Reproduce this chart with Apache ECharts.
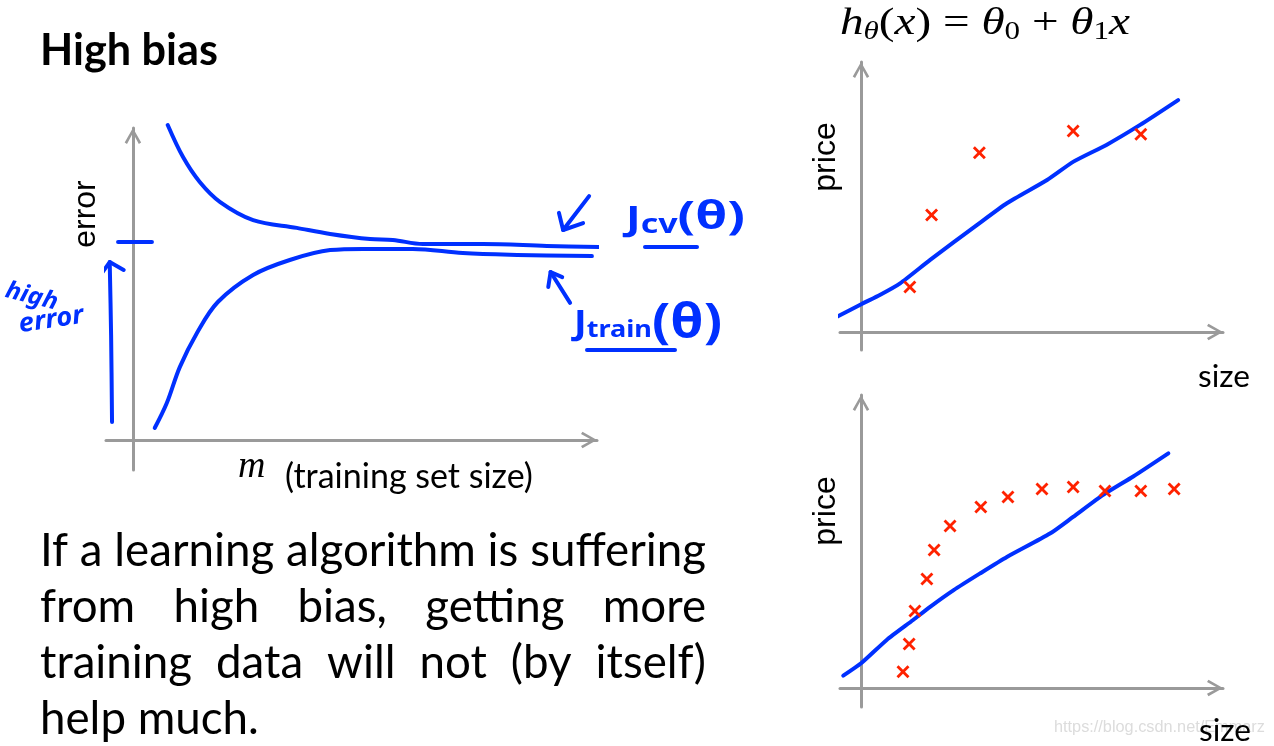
<!DOCTYPE html>
<html>
<head>
<meta charset="utf-8">
<script src="https://cdn.jsdelivr.net/npm/echarts@6/dist/echarts.min.js"></script>
<style>html,body{margin:0;padding:0;background:#fff}#c{width:1274px;height:746px}</style>
</head>
<body>
<div id="c"></div>
<script>
// ---------------- data ----------------
// Left panel: learning curves (x = training set size m, y = error)
const cvCurve = [[0.75,10.5],[1.08,9.43],[1.44,8.6],[1.88,7.93],[2.59,7.33],[3.53,7.07],[4.25,6.87],[5.11,6.7],[5.6,6.67],[6.25,6.53],[7.54,6.53],[8.92,6.47],[10.13,6.43]];
const trainCurve = [[0.47,0.4],[0.73,1.23],[1.01,2.43],[1.38,3.57],[1.83,4.6],[2.59,5.5],[3.38,6.0],[4.25,6.33],[4.96,6.37],[6.03,6.37],[7.11,6.23],[8.28,6.17],[9.89,6.13]];
// Left panel hand-drawn annotations (same units)
const errTick = [[-0.32,6.6],[0.41,6.6]];
const highErrArrow = [[-0.45,0.6],[-0.47,3.5],[-0.5,5.93]];
const highErrHead = [[-0.73,5.43],[-0.5,5.93],[-0.2,5.67]];
const cvArrow = [[9.83,8.13],[9.27,7.0]];
const cvHead = [[9.18,7.57],[9.27,7.0],[9.7,7.23]];
const trainArrow = [[9.42,4.57],[9.0,5.6]];
const trainHead = [[8.95,5.1],[9.0,5.6],[9.25,5.43]];
// Top right: few points + straight-line fit (size vs price)
const topPoints = [[1.35,1.67],[1.95,4.33],[3.27,6.64],[5.86,7.44],[7.73,7.32]];
const topFit = [[-0.65,0.57],[0.02,1.04],[0.52,1.37],[1.08,1.8],[1.91,2.67],[3.2,3.96],[4.03,4.77],[5.14,5.63],[5.87,6.31],[6.78,6.93],[7.71,7.67],[8.76,8.59]];
// Bottom right: many points + straight-line fit
const bottomPoints = [[1.16,0.55],[1.33,1.5],[1.49,2.63],[1.82,3.72],[2.02,4.71],[2.46,5.53],[3.31,6.18],[4.06,6.52],[5.0,6.79],[5.86,6.86],[6.74,6.72],[7.73,6.72],[8.65,6.79]];
const bottomFit = [[-0.49,0.42],[0.02,0.86],[0.71,1.64],[1.44,2.32],[1.91,2.77],[2.56,3.34],[3.29,3.91],[4.03,4.47],[5.22,5.27],[5.86,5.84],[6.69,6.59],[7.52,7.22],[8.49,8.01]];
// Texts
const titleText = 'High bias';
const paraLines = ['If a learning algorithm is suffering','from high bias, getting more','training data will not (by itself)','help much.'];
const xLabelLeft = '(training set size)';
const yLabelLeft = 'error';
const yLabelRight = 'price';
const xLabelRight = 'size';

// ---------------- styles ----------------
const BLUE = '#0030ff';
const RED = '#ff2200';
const GRAY = '#9a9a9a';
const CHEVRON = 'path://M8.5,0L17,15L14.6,16.5L8.5,5.2L2.4,16.5L0,15Z';
const XMARK = 'path://M0,2L2,0L6.5,4.5L11,0L13,2L8.5,6.5L13,11L11,13L6.5,8.5L2,13L0,11L4.5,6.5Z';

const cvs = document.createElement('canvas');
const ctx = cvs.getContext('2d');
function measure(t, size, family, weight, style) {
  ctx.font = (style||'normal') + ' ' + (weight||'normal') + ' ' + size + 'px ' + family;
  return ctx.measureText(t).width;
}
function fitSize(t, target, family, weight, style) {
  return 40 * target / measure(t, 40, family, weight, style);
}
const els = [];
function txt(t, x, y, size, family, o) {
  o = o || {};
  const el = {
    type: 'text', x: x, y: y, rotation: o.rotation || 0, scaleX: o.scaleX || 1, z: o.z || 10,
    style: {
      text: t, fill: o.fill || '#000', fontSize: size, fontFamily: family,
      fontWeight: o.weight || 'normal', fontStyle: o.style || 'normal',
      align: o.align || 'left', verticalAlign: 'middle',
      textAlign: o.align || 'left', textVerticalAlign: 'middle'
    }
  };
  els.push(el);
  return el;
}
// sequence of tokens [text, size, dy, style, weight], stretched to target width
function seq(tokens, x0, y, family, fill, target) {
  const widths = tokens.map(tk => measure(tk[0], tk[1], family, tk[4], tk[3]));
  const total = widths.reduce((a, b) => a + b, 0);
  const sx = target ? target / total : 1;
  let x = x0;
  tokens.forEach((tk, i) => {
    txt(tk[0], x, y + tk[2], tk[1], family, {style: tk[3], weight: tk[4], fill: fill, scaleX: sx});
    x += widths[i] * sx;
  });
}
function hline(x1, x2, y) {
  els.push({type: 'line', z: 10, shape: {x1: x1, y1: y, x2: x2, y2: y},
    style: {stroke: BLUE, lineWidth: 4, lineCap: 'round'}});
}

// Title
const SANS = 'Lato';
txt(titleText, 40, 51, fitSize(titleText, 178, SANS, 'bold'), SANS, {weight: 'bold'});

// Paragraph, justified
const paraSize = fitSize(paraLines[0], 666, SANS);
const paraY = [551, 607, 663, 719];
paraLines.forEach((line, i) => {
  const words = line.split(' ');
  if (i === paraLines.length - 1) { txt(line, 40, paraY[i], paraSize, SANS); return; }
  const ws = words.map(w => measure(w, paraSize, SANS));
  const gap = (666 - ws.reduce((a, b) => a + b, 0)) / (words.length - 1);
  let x = 40;
  words.forEach((w, j) => { txt(w, x, paraY[i], paraSize, SANS); x += ws[j] + gap; });
});

// Axis labels
const ARIAL = '"Liberation Sans"';
txt(yLabelLeft, 86, 214, 32, ARIAL, {rotation: Math.PI / 2, align: 'center'});
txt(yLabelRight, 826, 157, 32, ARIAL, {rotation: Math.PI / 2, align: 'center'});
txt(yLabelRight, 826, 511, 32, ARIAL, {rotation: Math.PI / 2, align: 'center'});
const sizeSize = fitSize(xLabelRight, 52, SANS);
const wm = 'https://blog.csdn.net/Emmarz';
txt(wm, 1054, 728, fitSize(wm, 211, ARIAL), ARIAL, {fill: '#dcdcdc', z: 5});
txt(xLabelRight, 1224, 377, sizeSize, SANS, {align: 'center'});
txt(xLabelRight, 1225, 731, sizeSize, SANS, {align: 'center', z: 12});
txt('m', 238, 467, 38, '"Liberation Serif"', {style: 'italic'});
txt(xLabelLeft, 285, 477, fitSize(xLabelLeft, 248, SANS), SANS);

// Formula h_θ(x) = θ0 + θ1 x
const SERIF = '"Liberation Serif"';
seq([['h',38,0,'italic'],['θ',25,8,'italic'],['(',38,0],['x',38,0,'italic'],[')',38,0],[' = ',38,0],['θ',38,0,'italic'],['0',25,8],[' + ',38,0],['θ',38,0,'italic'],['1',25,8],['x',38,0,'italic']],
    840, 24, SERIF, '#000', 290);

// Hand-written labels
const HAND = '"Noto Sans"';
txt('high', 6, 290, 24, HAND, {fill: BLUE, weight: 'bold', style: 'italic', rotation: -0.25, scaleX: 1.05});
txt('error', 19, 325, 26, HAND, {fill: BLUE, weight: 'bold', style: 'italic', rotation: 0.15, scaleX: 1.05});
seq([['J',34,0,'normal','bold'],['cv',26,6,'normal','bold'],['(θ)',40,-2,'normal','bold']], 626, 220, HAND, BLUE, 119);
seq([['J',34,0,'normal','bold'],['train',24,6,'normal','bold'],['(θ)',48,0,'normal','bold']], 574, 324, HAND, BLUE, 148);
hline(645, 697, 247);
hline(587, 675, 350);

// ---------------- chart ----------------
function vAxis(idx, min, max) {
  return {
    type: 'value', gridIndex: idx, min: min, max: max,
    axisLine: {show: true, onZero: true, symbol: ['none', CHEVRON], symbolSize: [17, 16], symbolOffset: [0, -8],
      lineStyle: {color: GRAY, width: 3}},
    axisTick: {show: false}, axisLabel: {show: false}, splitLine: {show: false}
  };
}
function line(data, idx, smooth) {
  return {type: 'line', data: data, xAxisIndex: idx, yAxisIndex: idx, smooth: smooth || false,
    symbol: 'none', clip: false, silent: true, z: 3,
    lineStyle: {color: BLUE, width: 4, cap: 'round', join: 'round'}};
}
function pts(data, idx) {
  return {type: 'scatter', data: data, xAxisIndex: idx, yAxisIndex: idx, symbol: XMARK, symbolSize: 13,
    itemStyle: {color: RED, opacity: 1}, z: 4, silent: true};
}

const chart = echarts.init(document.getElementById('c'), null, {renderer: 'canvas'});
chart.setOption({
  animation: false,
  backgroundColor: '#fff',
  grid: [
    {left: 106, top: 128, width: 491, height: 342},
    {left: 840, top: 62, width: 383, height: 288},
    {left: 840, top: 395, width: 383, height: 312}
  ],
  xAxis: [vAxis(0, -0.58, 10), vAxis(1, -0.58, 10), vAxis(2, -0.58, 10)],
  yAxis: [vAxis(0, -1, 10.4), vAxis(1, -0.667, 10), vAxis(2, -0.65, 10)],
  series: [
    line(cvCurve, 0, 0.35), line(trainCurve, 0, 0.35),
    line(errTick, 0), line(highErrArrow, 0, 0.3), line(highErrHead, 0),
    line(cvArrow, 0), line(cvHead, 0), line(trainArrow, 0), line(trainHead, 0),
    line(topFit, 1, 0.2), pts(topPoints, 1),
    line(bottomFit, 2, 0.2), pts(bottomPoints, 2)
  ],
  graphic: {elements: els}
});
</script>
</body>
</html>
